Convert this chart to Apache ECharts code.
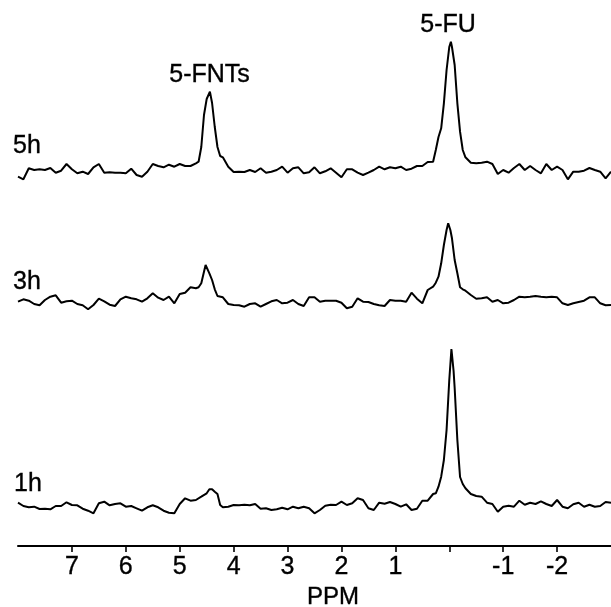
<!DOCTYPE html>
<html><head><meta charset="utf-8">
<script src="https://cdn.jsdelivr.net/npm/echarts@6/dist/echarts.min.js"></script>
<style>html,body{margin:0;padding:0;background:#fff}#c{width:611px;height:607px}</style>
</head><body><div id="c"></div>
<script>
// chemical shift (ppm) and intensity readings for each spectrum
const ppm5h = [8.0,7.9,7.8,7.7,7.6,7.5,7.4,7.3,7.2,7.1,7.0,6.9,6.8,6.7,6.6,6.5,6.4,6.3,6.2,6.1,6.0,5.9,5.8,5.7,5.6,5.5,5.4,5.3,5.2,5.1,5.0,4.9,4.8,4.7,
  4.65,4.6,4.55,4.5,4.44,4.4,4.35,4.3,4.25,4.2,
  4.1,4.0,3.9,3.8,3.7,3.6,3.5,3.4,3.3,3.2,3.1,3.0,2.9,2.8,2.7,
  2.6,2.5,2.4,2.3,2.2,2.1,2.0,1.9,1.8,1.7,1.6,1.5,1.4,1.3,1.2,1.1,1.0,0.9,0.8,0.7,0.6,0.5,0.4,0.3,
  0.25,0.2,0.15,0.1,0.05,0.0,-0.03,-0.05,-0.1,-0.15,-0.2,-0.25,-0.3,
  -0.4,-0.5,-0.6,-0.7,-0.8,-0.9,-1.0,-1.1,-1.2,-1.3,-1.4,-1.5,-1.6,-1.7,-1.8,-1.9,-2.0,-2.1,-2.2,-2.3,-2.4,-2.5,-2.6,-2.7,-2.8,-2.9,-3.0];
const int5h = [-3.7,-6.3,4.7,3,3.7,3,5,0.3,2.3,9,3.7,-0.3,1.3,-1,5.7,9,0.3,0.7,0.3,0.3,-0.3,4.3,-2,-3.7,1.3,9,7,5.7,8.3,6.3,9,7,7,9.7,
  11.3,26,58,74,81.3,70,46,26,17,15.7,
  6.3,1,1.3,1,3,1,4.7,0.3,1.3,3,6.3,0.3,4.7,5.7,-0.3,
  0.7,5.7,-0.3,1.7,4.7,0.3,-4.3,3.7,3.7,0.3,-2,0.3,3,6.3,3.7,5.7,4.7,6.3,3,4.3,7,7,11,11.3,
  23,36,44.7,69.7,103,126,131.3,126,108,69.7,41.3,23,15.7,
  10.3,9.7,10.3,11.3,9,-1,3,0.3,5,9,3,7,3,-0.3,9,3,6.3,3,-6.3,1.3,1.3,2.3,5,3,1.3,-5.3,1.3];

const ppm3h = [8.0,7.9,7.8,7.7,7.6,7.5,7.4,7.3,7.2,7.1,7.0,6.9,6.8,6.7,6.6,6.5,6.4,6.3,6.2,6.1,6.0,5.9,5.8,5.7,5.6,5.5,5.4,5.3,5.2,5.1,5.0,4.9,4.8,4.7,
  4.65,4.6,4.55,4.52,4.45,4.4,4.35,4.3,4.2,
  4.1,4.0,3.9,3.8,3.7,3.6,3.5,3.4,3.3,3.2,3.1,3.0,2.9,2.8,2.7,
  2.6,2.5,2.4,2.3,2.2,2.1,2.0,1.9,1.8,1.7,1.6,1.5,1.4,1.3,1.2,1.1,1.0,0.9,0.8,0.7,0.6,0.5,0.4,0.3,
  0.25,0.2,0.15,0.1,0.05,0.02,-0.02,-0.05,-0.1,-0.15,-0.2,-0.25,-0.3,
  -0.4,-0.5,-0.6,-0.7,-0.8,-0.9,-1.0,-1.1,-1.2,-1.3,-1.4,-1.5,-1.6,-1.7,-1.8,-1.9,-2.0,-2.1,-2.2,-2.3,-2.4,-2.5,-2.6,-2.7,-2.8,-2.9,-3.0];
const int3h = [0.3,2.7,1.3,-2,-3.3,2,5.3,6.7,-0.7,0.7,1.3,-2,-3.3,-7.3,-3,3.3,0.7,-2.7,-4,2.7,5.3,3.7,2.7,0.3,3.7,8.7,4.3,2,5.3,-1.3,8,9.3,14.7,13.7,
  14.7,18.7,30.3,37,28.7,22,12.7,6,4.7,
  -2,-3,-3.3,-4.7,-2,-1.3,-4.7,-2,0.7,2,-1.3,-0.7,2,-2,-4,
  4.7,4.7,0.3,1.3,1.3,1.3,-0.7,-6.3,-4.7,3.7,0.3,0,-2,-3.3,-4,2,1.3,1.3,0.3,9.3,3.3,-1.3,12,15.3,
  19.3,25.3,38.7,57,72,78.7,72,63.7,42,28.7,14.7,12.7,11.3,
  7,3.3,3.7,4.7,0.3,2,-1.3,-0.7,2,5.3,4.7,5.3,6,5.3,4.7,5.3,4.7,-1.3,-3,-1.3,0,1.3,4.7,4.7,-1.3,-3.3,-3];

const ppm1h = [8.0,7.9,7.8,7.7,7.6,7.5,7.4,7.3,7.2,7.1,7.0,6.9,6.8,6.7,6.6,6.5,6.4,6.3,6.2,6.1,6.0,5.9,5.8,5.7,5.6,5.5,5.4,5.3,5.2,5.1,5.0,4.9,4.8,4.7,
  4.6,4.5,4.45,4.4,4.35,4.3,4.25,4.2,
  4.1,4.0,3.9,3.8,3.7,3.6,3.5,3.4,3.3,3.2,3.1,3.0,2.9,2.8,2.7,
  2.6,2.5,2.4,2.3,2.2,2.1,2.0,1.9,1.8,1.7,1.6,1.5,1.4,1.3,1.2,1.1,1.0,0.9,0.8,0.7,0.6,0.5,0.4,0.3,
  0.25,0.2,0.15,0.1,0.05,0.0,-0.04,-0.08,-0.1,-0.15,-0.2,-0.25,-0.3,
  -0.4,-0.5,-0.6,-0.7,-0.8,-0.9,-1.0,-1.1,-1.2,-1.3,-1.4,-1.5,-1.6,-1.7,-1.8,-1.9,-2.0,-2.1,-2.2,-2.3,-2.4,-2.5,-2.6,-2.7,-2.8,-2.9,-3.0];
const int1h = [3.3,0,-1.3,-0.7,-3,-2.7,-3.3,0,0,3.7,1,0.7,-2.7,-4.7,-7.3,2.7,4.3,0.7,2,2.7,-0.7,0,-2.3,-4.7,-1.3,0.7,-1.3,-4.7,-6.7,-7.3,2,7.7,5.3,6,
  9.3,12.7,16.7,16.7,14.3,12,1,-1.3,
  -0.7,1,0.7,1.3,0.7,2,-2.7,-2.3,-4,-3.3,-1.7,-3.3,-0.7,-2.3,-0.7,
  -2.3,-7.3,-4,0.3,1.3,1,4.3,1,2.7,7.7,6,-2.3,-4,3.3,2.3,4,2,-0.7,1.7,-4,-2.7,5.3,5.3,12,
  12.7,19.3,29.3,46,76,126,157,135,118,66,29,22,17.7,
  12,10,9.3,3.3,2,-5.7,-0.7,0.3,-0.7,5.3,1.3,3.3,2,4.7,2,0,6,-0.7,-2.3,1.7,3.3,-0.7,1.3,-0.7,0,4,3.3];

const traceNames = ['5h','3h','1h'];
const peakNames = ['5-FNTs','5-FU'];
const axisTitle = 'PPM';
const tickValues = [7,6,5,4,3,2,1,0,-1,-2];
const tickLabelValues = [7,6,5,4,3,2,1,-1,-2];

const traces = [[ppm5h,int5h],[ppm3h,int3h],[ppm1h,int1h]];
const gridTops = [3,132,336];
const FONT = '"Liberation Sans", Arial, sans-serif';
const txt = (text,x,y,align,size)=>({type:'text',x:x,y:y,style:{text:text,font:size+'px '+FONT,fill:'#000',stroke:'#000',lineWidth:0.35,align:align,verticalAlign:'middle'}});

const chart = echarts.init(document.getElementById('c'), null, {renderer:'canvas'});
const option = {
  animation:false,
  backgroundColor:'#fff',
  grid: gridTops.map(t=>({left:18,right:0,top:t,height:210})),
  xAxis: gridTops.map((t,i)=>({
    type:'value', gridIndex:i, min:-3, max:8, inverse:true, show: i===2,
    axisLine:{show:true,onZero:false,lineStyle:{color:'#000',width:2}},
    axisTick:{show:true,customValues:tickValues,length:6,lineStyle:{color:'#000',width:1.6}},
    axisLabel:{show:true,customValues:tickLabelValues,color:'#000',fontSize:25,fontFamily:FONT,margin:9,
      textBorderColor:'#000',textBorderWidth:0.35},
    splitLine:{show:false}
  })),
  yAxis: gridTops.map((t,i)=>({type:'value',gridIndex:i,min:-40,max:170,show:false,splitLine:{show:false}})),
  series: traces.map((tr,i)=>({
    type:'line', name:traceNames[i], xAxisIndex:i, yAxisIndex:i,
    data: tr[0].map((p,k)=>[p,tr[1][k]]),
    showSymbol:false, symbol:'none', clip:false,
    lineStyle:{color:'#000',width:2}
  })),
  graphic:[
    txt(traceNames[0],13,146.5,'left',25),
    txt(traceNames[1],13,282,'left',25),
    txt(traceNames[2],14,484.5,'left',25),
    txt(peakNames[0],209.5,75,'center',25),
    txt(peakNames[1],448,25,'center',25),
    txt(axisTitle,333,597,'center',24)
  ]
};
chart.setOption(option);
</script>
</body></html>
